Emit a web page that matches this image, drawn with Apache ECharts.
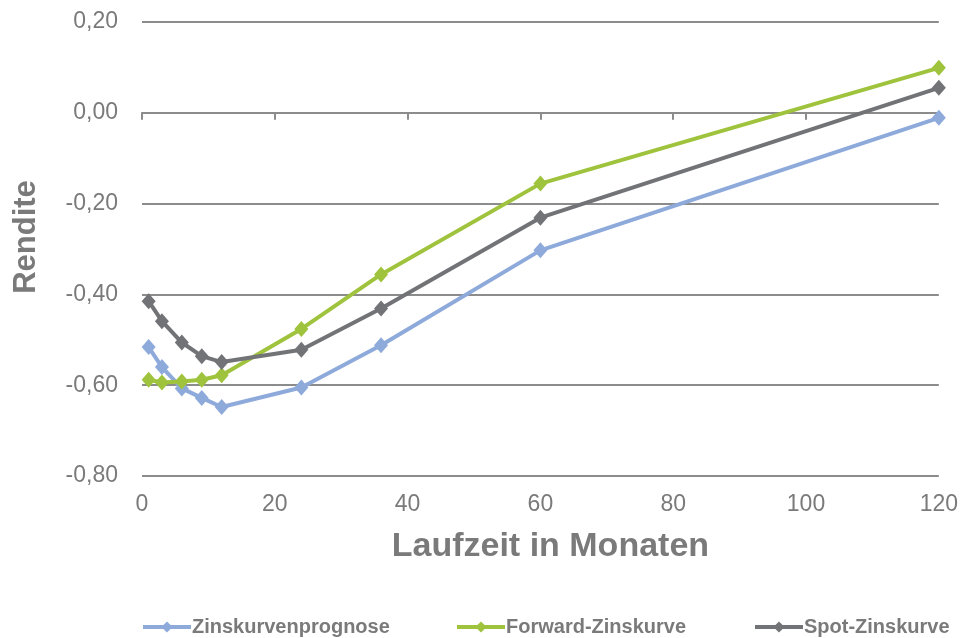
<!DOCTYPE html>
<html>
<head>
<meta charset="utf-8">
<script src="https://cdn.jsdelivr.net/npm/echarts@6/dist/echarts.min.js"></script>
<style>
html,body{margin:0;padding:0;background:#fff;}
#chart{width:961px;height:638px;}
</style>
</head>
<body>
<div id="chart"></div>
<script>
var months = [1, 3, 6, 9, 12, 24, 36, 60, 120];
var prognose = [-0.516, -0.560, -0.607, -0.628, -0.648, -0.605, -0.512, -0.303, -0.011];
var forward = [-0.588, -0.594, -0.592, -0.588, -0.578, -0.476, -0.356, -0.156, 0.099];
var spot = [-0.415, -0.459, -0.506, -0.536, -0.549, -0.522, -0.431, -0.231, 0.055];
var seriesNames = ['Zinskurvenprognose', 'Forward-Zinskurve', 'Spot-Zinskurve'];
var seriesColors = ['#8eaadb', '#9fc33c', '#727376'];

function pairs(vals) {
  return months.map(function (m, i) { return [m, vals[i]]; });
}
var FONT = 'Liberation Sans, Arial, sans-serif';
var chart = echarts.init(document.getElementById('chart'), null, {renderer: 'canvas'});

function mkSeries(name, vals, color) {
  return {
    name: name,
    type: 'line',
    data: pairs(vals),
    symbol: 'diamond',
    symbolSize: [14, 16],
    lineStyle: {color: color, width: 4},
    itemStyle: {color: color},
    emphasis: {disabled: true},
    animation: false
  };
}

function mkLegend(name, left) {
  return {
    data: [name],
    left: left,
    top: 612,
    itemWidth: 48,
    itemHeight: 14,
    itemGap: 0,
    lineStyle: {width: 4},
    textStyle: {color: '#7a7a7a', fontSize: 20, fontWeight: 'bold', fontFamily: FONT, padding: [0, 0, 0, -4]}
  };
}

chart.setOption({
  backgroundColor: '#fff',
  animation: false,
  grid: {left: 142, right: 21, top: 22, bottom: 162},
  legend: [mkLegend(seriesNames[0], 136), mkLegend(seriesNames[1], 450), mkLegend(seriesNames[2], 748)],
  xAxis: [{
    type: 'value',
    min: 0, max: 120, interval: 20,
    position: 'bottom',
    axisLine: {show: false, onZero: false},
    axisTick: {show: false},
    splitLine: {show: false},
    axisLabel: {color: '#7a7a7a', fontSize: 23, fontFamily: FONT, margin: 17},
    name: 'Laufzeit in Monaten',
    nameLocation: 'middle',
    nameGap: 54,
    nameTextStyle: {color: '#7a7a7a', fontSize: 34, fontWeight: 'bold', fontFamily: FONT, padding: [0, 0, 0, 20]}
  }, {
    type: 'value',
    min: 0, max: 120, interval: 20,
    position: 'top',
    axisLine: {show: true, onZero: true, lineStyle: {color: '#8c8c8c', width: 2}},
    axisTick: {show: true, inside: true, length: 7, lineStyle: {color: '#8c8c8c', width: 2}},
    axisLabel: {show: false},
    splitLine: {show: false}
  }],
  yAxis: {
    type: 'value',
    min: -0.8, max: 0.2, interval: 0.2,
    axisLine: {show: false},
    axisTick: {show: false},
    splitLine: {show: true, lineStyle: {color: '#8c8c8c', width: 2}},
    axisLabel: {
      color: '#7a7a7a', fontSize: 23, fontFamily: FONT, margin: 24,
      formatter: function (v) { return v.toFixed(2).replace('.', ','); }
    },
    name: 'Rendite',
    nameLocation: 'middle',
    nameGap: 100,
    nameTextStyle: {color: '#7a7a7a', fontSize: 31, fontWeight: 'bold', fontFamily: FONT, padding: [0, 0, 0, 24]}
  },
  series: [
    mkSeries(seriesNames[0], prognose, seriesColors[0]),
    mkSeries(seriesNames[1], forward, seriesColors[1]),
    mkSeries(seriesNames[2], spot, seriesColors[2])
  ]
});
</script>
</body>
</html>
